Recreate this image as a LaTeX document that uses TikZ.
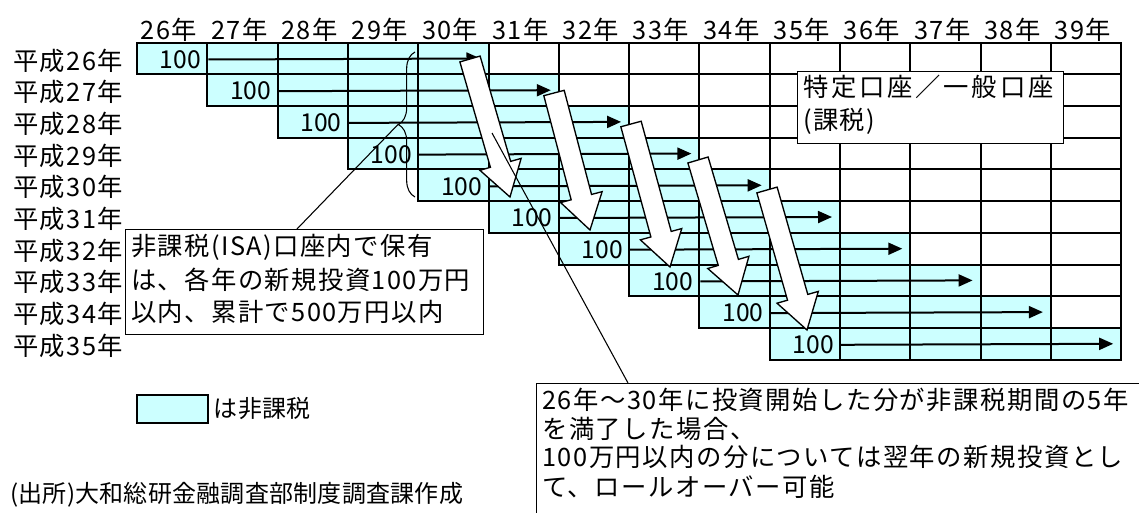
\documentclass[tikz,border=0pt]{standalone}
\usepackage{fontspec}
\setmainfont{Noto Sans CJK JP}[LetterSpace=5.5]
\newfontfamily\plainjp{Noto Sans CJK JP}
\newfontfamily\widejp{Noto Sans CJK JP}[LetterSpace=11]
\newfontfamily\rolljp{Noto Sans CJK JP}[LetterSpace=6]
\newfontfamily\narrowjp{Noto Sans CJK JP}[LetterSpace=1]
\usetikzlibrary{calc,arrows.meta,decorations.pathreplacing}
\definecolor{taxfree}{HTML}{CCFFFF}
\begin{document}
\begin{tikzpicture}[x=0.75pt,y=-0.75pt,
  gridcell/.style={line width=1.5pt},
  lab/.style={inner sep=0pt, font=\fontsize{19}{23}\selectfont},
  rolltext/.style={inner sep=0pt, font=\rolljp\fontsize{19}{23}\selectfont},
  val/.style={inner sep=0pt, font=\plainjp\fontsize{18.5}{22}\selectfont},
  rowarrow/.style={line width=1.5pt, -{Triangle[length=10.5pt,width=9pt]}},
  bigarrow/.style={draw=black, fill=white, line width=1pt, line join=miter},
  callout/.style={draw=black, fill=white, line width=0.9pt, inner sep=0pt},
  pointer/.style={line width=0.8pt},
]
\useasboundingbox (0,0) rectangle (1139,513);
\fill[white] (0,0) rectangle (1139,513);

% header
\foreach \j in {0,...,13}{
  \pgfmathtruncatemacro\yr{26+\j}
  \node[lab] (h\j) at ({169+70.3*\j},30) {\yr 年};
}
% rows
\foreach \i in {0,...,9}{
  \pgfmathtruncatemacro\yr{26+\i}
  \node[lab, anchor=west] (r\i) at (13,{60.5+31.7*\i}) {平成\yr 年};
  \foreach \j in {\i,...,13}{
    \pgfmathtruncatemacro\d{\j-\i}
    \ifnum\d<5 \def\cc{taxfree}\else\def\cc{white}\fi
    \filldraw[gridcell, fill=\cc, draw=black] ({137+70.3*\j},{42.7+31.7*\i}) rectangle ({137+70.3*(\j+1)},{42.7+31.7*(\i+1)});
  }
}
\foreach \i in {0,...,9}{
  \node[val, anchor=east] (v\i) at ({137+70.3*(\i+1)-6},{59.5+31.7*\i}) {100};
  \coordinate (e\i) at ({137+70.3*(\i+5)-8},{58.5+31.7*\i});
  \draw[rowarrow] ($(v\i.east)+(7,0)$) -- (e\i);
}

% big block arrows
\foreach \k/\sx/\sy/\tx/\ty in {1/470/59/510/197, 2/554/93/590/230, 3/631/124/670/267, 4/698/160/738/295, 5/767/190/807/330}{
  \coordinate (s\k) at (\sx,\sy);
  \coordinate (t\k) at (\tx,\ty);
  \coordinate (b\k) at ($(t\k)!25.5pt!(s\k)$);
  \draw[bigarrow] ($(s\k)!7.9pt!90:(t\k)$) -- ($(b\k)!7.9pt!90:(t\k)$) -- ($(b\k)!16.1pt!90:(t\k)$) -- (t\k)
     -- ($(b\k)!16.1pt!-90:(t\k)$) -- ($(b\k)!7.9pt!-90:(t\k)$) -- ($(s\k)!7.9pt!-90:(t\k)$) -- cycle;
}

% brace
\draw[line width=0.8pt, decorate, decoration={brace, amplitude=12.5pt}] (415,197) -- (415,52);
\coordinate (bt) at (398,124.5);

% callout: tokutei
\node[callout, anchor=north west, minimum width=199.5pt, minimum height=54pt] (tok) at (797,71) {};
\node[lab, font=\widejp\fontsize{19}{23}\selectfont, anchor=west] (tok1) at (803,87) {特定口座／一般口座};
\node[lab, anchor=west] (tok2) at (803,121) {(課税)};

% callout: ISA
\node[callout, anchor=north west, minimum width=268.5pt, minimum height=78.75pt] (isa) at (125,229) {};
\draw[pointer] ($(isa.north west)+(172,0)$) -- (bt);
\node[lab, anchor=west] (isa1) at (131,247) {非課税(ISA)口座内で保有};
\node[lab, anchor=west] (isa2) at (131,279.5) {は、各年の新規投資100万円};
\node[lab, anchor=west] (isa3) at (131,312) {以内、累計で500万円以内};

% callout: rollover
\node[callout, anchor=north west, minimum width=525pt, minimum height=150pt] (roll) at (536,383) {};
\coordinate (rp) at (492,133);
\draw[pointer] ($(roll.north west)+(92,0)$) -- (rp);
\node[rolltext, anchor=west] (roll1) at (542,400) {26年～30年に投資開始した分が非課税期間の5年};
\node[rolltext, anchor=west] (roll2) at (542,428.5) {を満了した場合、};
\node[rolltext, anchor=west] (roll3) at (542,457) {100万円以内の分については翌年の新規投資とし};
\node[rolltext, anchor=west] (roll4) at (542,487) {て、ロールオーバー可能};

% legend
\node[draw=black, fill=taxfree, line width=1.2pt, anchor=north west, minimum width=53.25pt, minimum height=21pt, inner sep=0pt] (leg) at (136,394) {};
\node[lab, font=\narrowjp\fontsize{18}{22}\selectfont, anchor=west] (legt) at ($(leg.east)+(5,0)$) {は非課税};

% source
\node[lab, font=\narrowjp\fontsize{18}{22}\selectfont, anchor=west] (src) at (10,495) {(出所)大和総研金融調査部制度調査課作成};
\end{tikzpicture}
\end{document}
